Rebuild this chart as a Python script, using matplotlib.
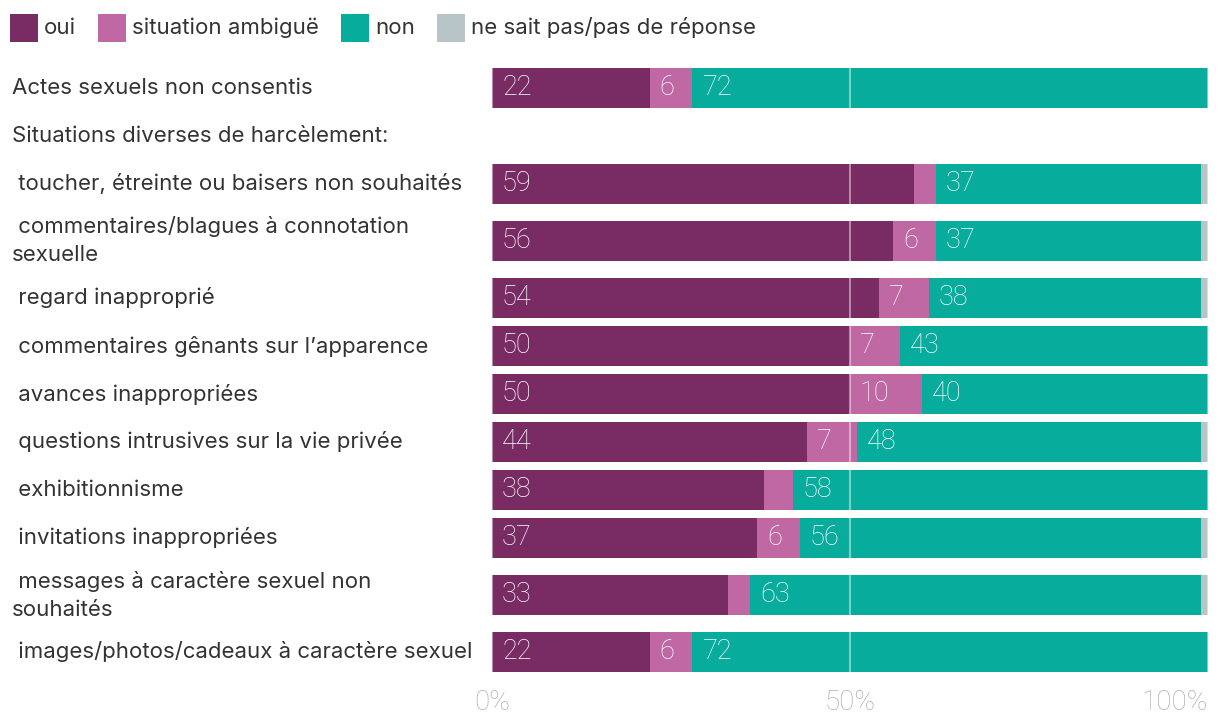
import numpy as np
import matplotlib.pyplot as plt
from matplotlib.patches import Rectangle

# data (percent)
labels = ["Actes sexuels non consentis",
          "Situations diverses de harcèlement:",
          " toucher, étreinte ou baisers non souhaités",
          " commentaires/blagues à connotation\nsexuelle",
          " regard inapproprié",
          " commentaires gênants sur l’apparence",
          " avances inappropriées",
          " questions intrusives sur la vie privée",
          " exhibitionnisme",
          " invitations inappropriées",
          " messages à caractère sexuel non\nsouhaités",
          " images/photos/cadeaux à caractère sexuel"]
oui = [22, None, 59, 56, 54, 50, 50, 44, 38, 37, 33, 22]
ambigue = [6, None, 3, 6, 7, 7, 10, 7, 4, 6, 3, 6]
non = [72, None, 37, 37, 38, 43, 40, 48, 58, 56, 63, 72]
nsp = [0, None, 1, 1, 1, 0, 0, 1, 0, 1, 1, 0]

series = [("oui", oui, "#782c63"),
          ("situation ambiguë", ambigue, "#c068a3"),
          ("non", non, "#08ac9c"),
          ("ne sait pas/pas de réponse", nsp, "#b8c5c8")]

txt = "#333333"
plt.rcParams['font.family'] = ['Inter', 'DejaVu Sans']

W, H = 1220, 720
fig = plt.figure(figsize=(12.2, 7.2), dpi=100)
# axes in pixel units: y from 60 to 690 px
top_px, bot_px = 60, 690
ax = fig.add_axes([492 / W, 1 - bot_px / H, 716 / W, (bot_px - top_px) / H])

# row layout: single-line rows 48px, two-line rows 66px
row_h = [48 if "\n" not in l else 66 for l in labels]
edges = 64 + np.concatenate([[0], np.cumsum(row_h)])
centers = (edges[:-1] + edges[1:]) / 2

for i, lab in enumerate(labels):
    fig.text(12 / W, 1 - centers[i] / H, lab, ha='left', va='center',
             fontsize=16, color=txt, linespacing=1.5)
    if oui[i] is None:
        continue
    left = 0
    for name, vals, col in series:
        v = vals[i]
        ax.barh(centers[i], v, left=left, height=40, color=col, linewidth=0)
        if v >= 5 and name != "ne sait pas/pas de réponse":
            ax.text(left + 1.4, centers[i], str(v), ha='left', va='center',
                    color='white', fontsize=19.5, family='Roboto', fontweight='light')
        left += v

for xv in [0, 50, 100]:
    ax.axvline(xv, color='white', alpha=0.45, linewidth=1.5, zorder=3)

ax.set_xlim(0, 100)
ax.set_ylim(bot_px, top_px)
for s in ax.spines.values():
    s.set_visible(False)
ax.set_yticks([])
ax.set_xticks([0, 50, 100])
ax.set_xticklabels(["0%", "50%", "100%"], color="#b0b0b0", fontsize=20,
                   family='Roboto', fontweight='light')
ax.get_xticklabels()[2].set_ha('right')
ax.get_xticklabels()[2].set_x(100.3)
ax.tick_params(axis='x', length=0, pad=-1)

# legend drawn by hand: square, label, next
renderer = fig.canvas.get_renderer()
x = 10
for name, _, col in series:
    fig.patches.append(Rectangle((x / W, 1 - 42 / H), 28 / W, 28 / H,
                                 transform=fig.transFigure, facecolor=col,
                                 edgecolor='none'))
    t = fig.text((x + 34) / W, 1 - 28 / H, name, ha='left', va='center',
                 fontsize=16, color=txt)
    wpx = t.get_window_extent(renderer).width
    x = x + 34 + wpx + 22

fig.savefig("out.png", dpi=100)
